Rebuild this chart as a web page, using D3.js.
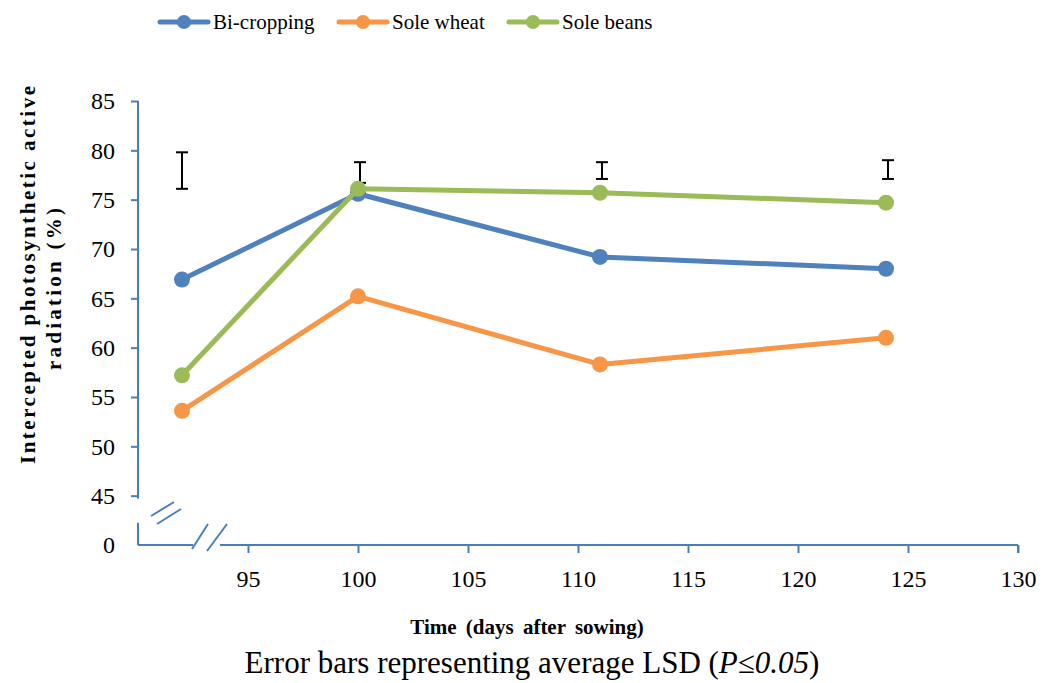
<!DOCTYPE html>
<html>
<head>
<meta charset="utf-8">
<script src="https://cdn.jsdelivr.net/npm/d3@7"></script>
<style>
  body { margin: 0; background: #fff; }
</style>
</head>
<body>
<svg id="chart" width="1046" height="683" font-family="Liberation Serif"></svg>
<script>
const days = [92, 100, 111, 124];
const biCropping = [66.9, 75.6, 69.2, 68.0];
const soleWheat = [53.6, 65.2, 58.3, 61.0];
const soleBeans = [57.2, 76.1, 75.7, 74.7];
const lsdLow = [76.1, 76.7, 77.1, 77.1];
const lsdHigh = [79.8, 78.8, 78.8, 79.0];
const yTicks = [45, 50, 55, 60, 65, 70, 75, 80, 85];
const xTicks = [95, 100, 105, 110, 115, 120, 125, 130];

const series = [
  { name: "Bi-cropping", values: biCropping, color: "#4f81bd" },
  { name: "Sole wheat", values: soleWheat, color: "#f79646" },
  { name: "Sole beans", values: soleBeans, color: "#9bbb59" }
];

const svg = d3.select("#chart");
const axisColor = "#4a7ebb";
const serif = "'Liberation Serif', 'Times New Roman', serif";

// "0" sits where 40 would be (broken axis)
const x = d3.scaleLinear().domain([90, 130]).range([138, 1018]);
const y = d3.scaleLinear().domain([40, 85]).range([545, 101]);

// y axis
const yAxis = svg.append("g")
  .attr("transform", `translate(${x(90)},0)`)
  .call(d3.axisLeft(y).tickValues(yTicks.concat([40])).tickSize(7).tickPadding(16)
    .tickFormat(d => d === 40 ? "0" : d));
yAxis.select(".domain").remove();
yAxis.selectAll("line").attr("stroke", axisColor).attr("stroke-width", 2);
yAxis.selectAll("text").attr("font-size", 24).attr("fill", "#000");
yAxis.selectAll(".tick").filter(d => d === 40).select("line").remove();

svg.append("line").attr("x1", x(90)).attr("x2", x(90))
  .attr("y1", y(85)).attr("y2", y(45) + 3)
  .attr("stroke", axisColor).attr("stroke-width", 2);
svg.append("line").attr("x1", x(90)).attr("x2", x(90))
  .attr("y1", y(45) + 27).attr("y2", y(40))
  .attr("stroke", axisColor).attr("stroke-width", 2);

// x axis
const xAxis = svg.append("g")
  .attr("transform", `translate(0,${y(40)})`)
  .call(d3.axisBottom(x).tickValues(xTicks).tickSize(8).tickPadding(17));
xAxis.select(".domain").remove();
xAxis.selectAll("line").attr("stroke", axisColor).attr("stroke-width", 2);
xAxis.selectAll("text").attr("font-size", 24).attr("fill", "#000");

svg.append("line").attr("x1", x(90)).attr("x2", 193)
  .attr("y1", y(40)).attr("y2", y(40))
  .attr("stroke", axisColor).attr("stroke-width", 2);
svg.append("line").attr("x1", 220).attr("x2", x(130))
  .attr("y1", y(40)).attr("y2", y(40))
  .attr("stroke", axisColor).attr("stroke-width", 2);
svg.append("line").attr("x1", x(130)).attr("x2", x(130))
  .attr("y1", y(40)).attr("y2", y(40) + 8)
  .attr("stroke", axisColor).attr("stroke-width", 2);

// break marks
const breaks = [
  [151, 516, 174, 502], [157, 524, 181, 509],
  [192, 549, 208, 524], [207, 551, 227, 524]
];
svg.selectAll(".brk").data(breaks).join("line")
  .attr("class", "brk")
  .attr("x1", d => d[0]).attr("y1", d => d[1])
  .attr("x2", d => d[2]).attr("y2", d => d[3])
  .attr("stroke", axisColor).attr("stroke-width", 2);

// error bars
const eb = svg.append("g");
days.forEach((d, i) => {
  const cx = x(d) + (i === 0 ? 0 : 2);
  eb.append("line").attr("x1", cx).attr("x2", cx)
    .attr("y1", y(lsdHigh[i])).attr("y2", y(lsdLow[i]))
    .attr("stroke", "#000").attr("stroke-width", 2);
  [lsdHigh[i], lsdLow[i]].forEach(v => {
    eb.append("line").attr("x1", cx - 6).attr("x2", cx + 6)
      .attr("y1", y(v)).attr("y2", y(v))
      .attr("stroke", "#000").attr("stroke-width", 2);
  });
});

// series lines and markers
const line = d3.line().x((d, i) => x(days[i])).y(d => y(d));
series.forEach(s => {
  svg.append("path")
    .attr("d", line(s.values))
    .attr("fill", "none")
    .attr("stroke", s.color)
    .attr("stroke-width", 5)
    .attr("stroke-linejoin", "round");
  svg.selectAll(null).data(s.values).join("circle")
    .attr("cx", (d, i) => x(days[i]))
    .attr("cy", d => y(d))
    .attr("r", 8)
    .attr("fill", s.color);
});

// legend
const legendX = [160, 339, 509];
const legend = svg.selectAll(".leg").data(series).join("g")
  .attr("class", "leg")
  .attr("transform", (d, i) => `translate(${legendX[i]},22)`);
legend.append("line").attr("x1", 0).attr("x2", 48)
  .attr("stroke", d => d.color).attr("stroke-width", 5).attr("stroke-linecap", "round");
legend.append("circle").attr("cx", 24).attr("r", 7).attr("fill", d => d.color);
legend.append("text").attr("x", 53).attr("y", 7)
  .attr("font-size", 21).text(d => d.name);

// axis titles
svg.append("text")
  .attr("transform", "translate(35,275) rotate(-90)")
  .attr("text-anchor", "middle")
  .attr("font-size", 21).attr("font-weight", "bold")
  .attr("textLength", 378).attr("lengthAdjust", "spacing")
  .text("Intercepted photosynthetic active");
svg.append("text")
  .attr("transform", "translate(61,289) rotate(-90)")
  .attr("text-anchor", "middle")
  .attr("font-size", 21).attr("font-weight", "bold")
  .attr("textLength", 162).attr("lengthAdjust", "spacing")
  .text("radiation (%)");

svg.append("text")
  .attr("x", 527).attr("y", 634)
  .attr("text-anchor", "middle")
  .attr("font-size", 21).attr("font-weight", "bold")
  .attr("word-spacing", 4)
  .text("Time (days after sowing)");

const cap = svg.append("text")
  .attr("x", 532).attr("y", 673)
  .attr("text-anchor", "middle")
  .attr("font-size", 31);
cap.append("tspan").text("Error bars representing average LSD (");
cap.append("tspan").attr("font-style", "italic").text("P≤0.05");
cap.append("tspan").text(")");

svg.selectAll("text").style("font-family", serif);
</script>
</body>
</html>
